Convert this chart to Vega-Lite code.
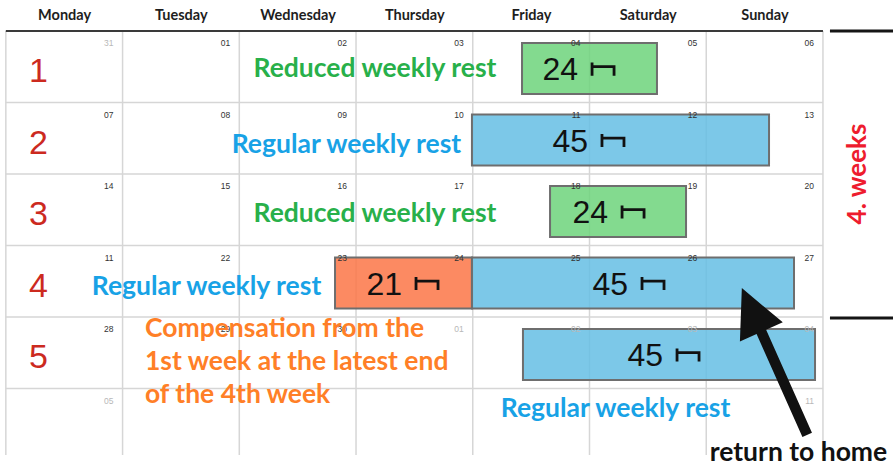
{
  "$schema": "https://vega.github.io/schema/vega-lite/v6.json",
  "width": 893,
  "height": 466,
  "autosize": {"type": "none"},
  "padding": 0,
  "background": "white",
  "config": {"view": {"stroke": null}},
  "resolve": {"scale": {"color": "independent"}},
  "datasets": {
    "vlines": [{"day": 0}, {"day": 1}, {"day": 2}, {"day": 3}, {"day": 4}, {"day": 5}, {"day": 6}, {"day": 7}],
    "hlines": [{"week": 2}, {"week": 3}, {"week": 4}, {"week": 5}, {"week": 6}],
    "headers": [
      {"day": 1, "name": "Monday"}, {"day": 2, "name": "Tuesday"}, {"day": 3, "name": "Wednesday"},
      {"day": 4, "name": "Thursday"}, {"day": 5, "name": "Friday"}, {"day": 6, "name": "Saturday"}, {"day": 7, "name": "Sunday"}
    ],
    "days": [
      {"week": 1, "day": 1, "label": "31", "month": "other"},
      {"week": 1, "day": 2, "label": "01", "month": "current"},
      {"week": 1, "day": 3, "label": "02", "month": "current"},
      {"week": 1, "day": 4, "label": "03", "month": "current"},
      {"week": 1, "day": 5, "label": "04", "month": "current"},
      {"week": 1, "day": 6, "label": "05", "month": "current"},
      {"week": 1, "day": 7, "label": "06", "month": "current"},
      {"week": 2, "day": 1, "label": "07", "month": "current"},
      {"week": 2, "day": 2, "label": "08", "month": "current"},
      {"week": 2, "day": 3, "label": "09", "month": "current"},
      {"week": 2, "day": 4, "label": "10", "month": "current"},
      {"week": 2, "day": 5, "label": "11", "month": "current"},
      {"week": 2, "day": 6, "label": "12", "month": "current"},
      {"week": 2, "day": 7, "label": "13", "month": "current"},
      {"week": 3, "day": 1, "label": "14", "month": "current"},
      {"week": 3, "day": 2, "label": "15", "month": "current"},
      {"week": 3, "day": 3, "label": "16", "month": "current"},
      {"week": 3, "day": 4, "label": "17", "month": "current"},
      {"week": 3, "day": 5, "label": "18", "month": "current"},
      {"week": 3, "day": 6, "label": "19", "month": "current"},
      {"week": 3, "day": 7, "label": "20", "month": "current"},
      {"week": 4, "day": 1, "label": "11", "month": "current"},
      {"week": 4, "day": 2, "label": "22", "month": "current"},
      {"week": 4, "day": 3, "label": "23", "month": "current"},
      {"week": 4, "day": 4, "label": "24", "month": "current"},
      {"week": 4, "day": 5, "label": "25", "month": "current"},
      {"week": 4, "day": 6, "label": "26", "month": "current"},
      {"week": 4, "day": 7, "label": "27", "month": "current"},
      {"week": 5, "day": 1, "label": "28", "month": "current"},
      {"week": 5, "day": 2, "label": "29", "month": "current"},
      {"week": 5, "day": 3, "label": "30", "month": "current"},
      {"week": 5, "day": 4, "label": "01", "month": "other"},
      {"week": 5, "day": 5, "label": "02", "month": "other"},
      {"week": 5, "day": 6, "label": "03", "month": "other"},
      {"week": 5, "day": 7, "label": "04", "month": "other"},
      {"week": 6, "day": 1, "label": "05", "month": "other"},
      {"week": 6, "day": 7, "label": "11", "month": "other"}
    ],
    "weeks": [
      {"week": 1, "label": "1"}, {"week": 2, "label": "2"}, {"week": 3, "label": "3"},
      {"week": 4, "label": "4"}, {"week": 5, "label": "5"}
    ],
    "rests": [
      {"week": 1, "start": 4.422, "end": 5.578, "hours": "24", "rest": "reduced", "labelAt": 4.902},
      {"week": 2, "start": 3.993, "end": 6.538, "hours": "45", "rest": "regular", "labelAt": 4.987},
      {"week": 3, "start": 4.662, "end": 5.827, "hours": "24", "rest": "reduced", "labelAt": 5.159},
      {"week": 4, "start": 2.820, "end": 3.993, "hours": "21", "rest": "compensation", "labelAt": 3.394},
      {"week": 4, "start": 3.993, "end": 6.752, "hours": "45", "rest": "regular", "labelAt": 5.330},
      {"week": 5, "start": 4.430, "end": 6.932, "hours": "45", "rest": "regular", "labelAt": 5.630}
    ],
    "notes": [
      {"text": "Reduced weekly rest", "x": 3.162, "y": 1.643, "kind": "reduced"},
      {"text": "Regular weekly rest", "x": 2.918, "y": 2.706, "kind": "regular"},
      {"text": "Reduced weekly rest", "x": 3.162, "y": 3.671, "kind": "reduced"},
      {"text": "Regular weekly rest", "x": 1.719, "y": 4.692, "kind": "regular"},
      {"text": "Regular weekly rest", "x": 5.223, "y": 6.398, "kind": "regular"},
      {"text": "return to home", "x": 6.790, "y": 7.020, "kind": "note"}
    ],
    "compensation": [
      {"text": "Compensation from the", "x": 1.192, "y": 5.279},
      {"text": "1st week at the latest end", "x": 1.192, "y": 5.741},
      {"text": "of the 4th week", "x": 1.192, "y": 6.202}
    ],
    "bracket": [{"y": 1.0}, {"y": 5.014}],
    "period": [{"text": "4. weeks", "x": 7.30, "y": 3.0}],
    "arrow": [{"x": 6.585, "y": 5.622, "target": "return to home"}]
  },
  "layer": [
    {
      "data": {"name": "vlines"},
      "mark": {"type": "rule", "color": "#d6d6d6", "strokeWidth": 1.5},
      "encoding": {
        "x": {"field": "day", "type": "quantitative", "scale": {"domain": [-0.05, 7.6], "nice": false, "zero": false}, "axis": null},
        "y": {"datum": 1, "type": "quantitative", "scale": {"domain": [0.566, 7.084], "reverse": true, "nice": false, "zero": false}, "axis": null},
        "y2": {"datum": 6.93}
      }
    },
    {
      "data": {"name": "hlines"},
      "mark": {"type": "rule", "color": "#d6d6d6", "strokeWidth": 1.5},
      "encoding": {
        "x": {"datum": 0, "type": "quantitative", "scale": {"domain": [-0.05, 7.6], "nice": false, "zero": false}, "axis": null},
        "x2": {"datum": 7},
        "y": {"field": "week", "type": "quantitative", "scale": {"domain": [0.566, 7.084], "reverse": true, "nice": false, "zero": false}, "axis": null}
      }
    },
    {
      "data": {"name": "rests"},
      "mark": {"type": "rect", "stroke": "#6e6e6e", "strokeWidth": 2, "fillOpacity": 0.85, "yOffset": 12, "y2Offset": 63},
      "encoding": {
        "x": {"field": "start", "type": "quantitative", "scale": {"domain": [-0.05, 7.6], "nice": false, "zero": false}, "axis": null},
        "x2": {"field": "end"},
        "y": {"field": "week", "type": "quantitative", "scale": {"domain": [0.566, 7.084], "reverse": true, "nice": false, "zero": false}, "axis": null},
        "y2": {"field": "week"},
        "fill": {"field": "rest", "type": "nominal", "scale": {"domain": ["reduced", "regular", "compensation"], "range": ["#6dd37b", "#65bee4", "#fc7546"]}, "legend": null}
      }
    },
    {
      "data": {"values": [{"line": "header"}]},
      "mark": {"type": "rule", "color": "#3a3a3a", "strokeWidth": 2},
      "encoding": {
        "x": {"datum": 0, "type": "quantitative", "scale": {"domain": [-0.05, 7.6], "nice": false, "zero": false}, "axis": null},
        "x2": {"datum": 7},
        "y": {"datum": 1, "type": "quantitative", "scale": {"domain": [0.566, 7.084], "reverse": true, "nice": false, "zero": false}, "axis": null}
      }
    },
    {
      "data": {"name": "bracket"},
      "mark": {"type": "rule", "color": "#151515", "strokeWidth": 3},
      "encoding": {
        "x": {"datum": 7.06, "type": "quantitative", "scale": {"domain": [-0.05, 7.6], "nice": false, "zero": false}, "axis": null},
        "x2": {"datum": 7.6},
        "y": {"field": "y", "type": "quantitative", "scale": {"domain": [0.566, 7.084], "reverse": true, "nice": false, "zero": false}, "axis": null}
      }
    },
    {
      "data": {"name": "headers"},
      "mark": {"type": "text", "font": "Lato", "fontWeight": "bold", "fontSize": 14.5, "color": "#1e1e1e", "align": "center", "baseline": "alphabetic", "dx": -58, "dy": -11},
      "encoding": {
        "x": {"field": "day", "type": "quantitative", "scale": {"domain": [-0.05, 7.6], "nice": false, "zero": false}, "axis": null},
        "y": {"datum": 1, "type": "quantitative", "scale": {"domain": [0.566, 7.084], "reverse": true, "nice": false, "zero": false}, "axis": null},
        "text": {"field": "name"}
      }
    },
    {
      "data": {"name": "days"},
      "mark": {"type": "text", "font": "Liberation Sans", "fontSize": 8.5, "align": "right", "baseline": "middle", "dx": -9, "dy": 12},
      "encoding": {
        "x": {"field": "day", "type": "quantitative", "scale": {"domain": [-0.05, 7.6], "nice": false, "zero": false}, "axis": null},
        "y": {"field": "week", "type": "quantitative", "scale": {"domain": [0.566, 7.084], "reverse": true, "nice": false, "zero": false}, "axis": null},
        "text": {"field": "label"},
        "color": {"field": "month", "type": "nominal", "scale": {"domain": ["current", "other"], "range": ["#333333", "#b8b8b8"]}, "legend": null}
      }
    },
    {
      "data": {"name": "weeks"},
      "mark": {"type": "text", "font": "Liberation Sans", "fontSize": 34, "color": "#cc2a1f", "align": "center", "baseline": "alphabetic", "dy": 51},
      "encoding": {
        "x": {"datum": 0.28, "type": "quantitative", "scale": {"domain": [-0.05, 7.6], "nice": false, "zero": false}, "axis": null},
        "y": {"field": "week", "type": "quantitative", "scale": {"domain": [0.566, 7.084], "reverse": true, "nice": false, "zero": false}, "axis": null},
        "text": {"field": "label"}
      }
    },
    {
      "data": {"name": "rests"},
      "mark": {"type": "text", "font": "Liberation Sans", "fontSize": 32, "color": "#111111", "align": "right", "baseline": "alphabetic", "dy": 49},
      "encoding": {
        "x": {"field": "labelAt", "type": "quantitative", "scale": {"domain": [-0.05, 7.6], "nice": false, "zero": false}, "axis": null},
        "y": {"field": "week", "type": "quantitative", "scale": {"domain": [0.566, 7.084], "reverse": true, "nice": false, "zero": false}, "axis": null},
        "text": {"field": "hours"}
      }
    },
    {
      "data": {"name": "rests"},
      "mark": {"type": "point", "shape": "M-1,-0.6L-1,0.6M-1,-0.22L1,-0.22L1,0.6", "filled": false, "size": 484, "strokeWidth": 2.8, "color": "#111111", "opacity": 1, "xOffset": 25, "yOffset": 38},
      "encoding": {
        "x": {"field": "labelAt", "type": "quantitative", "scale": {"domain": [-0.05, 7.6], "nice": false, "zero": false}, "axis": null},
        "y": {"field": "week", "type": "quantitative", "scale": {"domain": [0.566, 7.084], "reverse": true, "nice": false, "zero": false}, "axis": null}
      }
    },
    {
      "data": {"name": "notes"},
      "mark": {"type": "text", "font": "Lato", "fontWeight": "bold", "fontSize": 26.5, "align": "center", "baseline": "alphabetic"},
      "encoding": {
        "x": {"field": "x", "type": "quantitative", "scale": {"domain": [-0.05, 7.6], "nice": false, "zero": false}, "axis": null},
        "y": {"field": "y", "type": "quantitative", "scale": {"domain": [0.566, 7.084], "reverse": true, "nice": false, "zero": false}, "axis": null},
        "text": {"field": "text"},
        "color": {"field": "kind", "type": "nominal", "scale": {"domain": ["reduced", "regular", "note"], "range": ["#28b04a", "#18a2e6", "#111111"]}, "legend": null}
      }
    },
    {
      "data": {"name": "compensation"},
      "mark": {"type": "text", "font": "Lato", "fontWeight": "bold", "fontSize": 26.5, "color": "#ff7f27", "align": "left", "baseline": "alphabetic"},
      "encoding": {
        "x": {"field": "x", "type": "quantitative", "scale": {"domain": [-0.05, 7.6], "nice": false, "zero": false}, "axis": null},
        "y": {"field": "y", "type": "quantitative", "scale": {"domain": [0.566, 7.084], "reverse": true, "nice": false, "zero": false}, "axis": null},
        "text": {"field": "text"}
      }
    },
    {
      "data": {"name": "period"},
      "mark": {"type": "text", "font": "Lato", "fontWeight": "bold", "fontSize": 26, "color": "#ee1c2e", "align": "center", "baseline": "middle", "angle": 270},
      "encoding": {
        "x": {"field": "x", "type": "quantitative", "scale": {"domain": [-0.05, 7.6], "nice": false, "zero": false}, "axis": null},
        "y": {"field": "y", "type": "quantitative", "scale": {"domain": [0.566, 7.084], "reverse": true, "nice": false, "zero": false}, "axis": null},
        "text": {"field": "text"}
      }
    },
    {
      "data": {"name": "arrow"},
      "mark": {"type": "point", "shape": "M0,-1L0.292,-0.403L0.065,-0.403L0.065,1L-0.065,1L-0.065,-0.403L-0.292,-0.403Z", "filled": true, "size": 25825, "angle": 336, "color": "#111111", "opacity": 1},
      "encoding": {
        "x": {"field": "x", "type": "quantitative", "scale": {"domain": [-0.05, 7.6], "nice": false, "zero": false}, "axis": null},
        "y": {"field": "y", "type": "quantitative", "scale": {"domain": [0.566, 7.084], "reverse": true, "nice": false, "zero": false}, "axis": null}
      }
    }
  ]
}
